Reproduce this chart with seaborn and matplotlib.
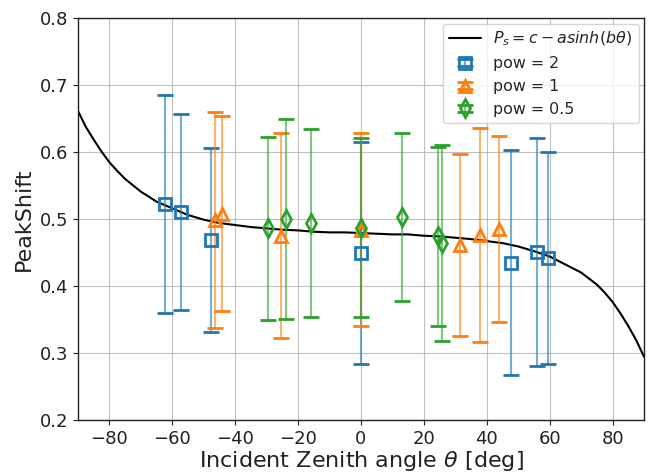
import numpy as np
import pandas as pd
from matplotlib import pyplot as plt
from matplotlib.legend_handler import HandlerErrorbar
import seaborn as sns

#%% data

# fitted curve P_s = c - asinh(b*theta)
theta_fit = [-90, -87.5, -85, -82.5, -80, -77.5, -75, -70, -65, -60, -55, -50, -45,
             -40, -35, -30, -25, -20, -15, -10, -5, 0, 5, 10, 15, 20, 25, 30, 35,
             40, 45, 50, 55, 60, 65, 70, 75, 77.5, 80, 82.5, 85, 87.5, 90]
ps_fit = [0.662, 0.638, 0.619, 0.601, 0.585, 0.572, 0.560, 0.541, 0.526, 0.516,
          0.506, 0.499, 0.494, 0.491, 0.488, 0.486, 0.484, 0.483, 0.481, 0.480,
          0.480, 0.479, 0.478, 0.477, 0.477, 0.475, 0.474, 0.472, 0.470, 0.467,
          0.464, 0.459, 0.452, 0.444, 0.432, 0.420, 0.402, 0.390, 0.376, 0.359,
          0.340, 0.319, 0.294]

# pow = 2
x_p2 = [-62.3, -57.3, -47.6, 0.0, 47.6, 56.0, 59.5]
y_p2 = [0.522, 0.510, 0.469, 0.449, 0.435, 0.451, 0.442]
e_p2 = [0.163, 0.146, 0.137, 0.166, 0.168, 0.170, 0.158]

# pow = 1
x_p1 = [-46.4, -44.1, -25.4, 0.0, 31.4, 37.9, 43.9]
y_p1 = [0.498, 0.508, 0.475, 0.484, 0.461, 0.476, 0.485]
e_p1 = [0.161, 0.146, 0.153, 0.144, 0.136, 0.160, 0.139]

# pow = 0.5
x_p05 = [-29.4, -23.8, -16.0, 0.0, 13.1, 24.4, 25.8]
y_p05 = [0.486, 0.500, 0.494, 0.487, 0.503, 0.474, 0.464]
e_p05 = [0.137, 0.150, 0.140, 0.134, 0.126, 0.134, 0.146]

#%% plot

sns.set_style("ticks")
plt.rcParams['font.family'] = ['DejaVu Sans']

fig, ax = plt.subplots(figsize=(6.48, 4.74), dpi=100)
fig.subplots_adjust(left=0.120, right=0.994, top=0.962, bottom=0.114)

fit = pd.DataFrame({'theta': theta_fit, 'ps': ps_fit})
sns.lineplot(x='theta', y='ps', data=fit, ax=ax, color='black', lw=1.5,
             label=r'$P_s = c - asinh(b\theta)$')

series = [(x_p2, y_p2, e_p2, 's', 'C0', 'pow = 2'),
          (x_p1, y_p1, e_p1, '^', 'C1', 'pow = 1'),
          (x_p05, y_p05, e_p05, 'd', 'C2', 'pow = 0.5')]
for xs, ys, es, mk, col, lab in series:
    cont = ax.errorbar(xs, ys, yerr=es, fmt=mk, color=col, mfc='none', ms=9, mew=2,
                       capsize=6, capthick=2.5, elinewidth=1.5, label=lab, zorder=3)
    cont[2][0].set_alpha(0.6)

ax.set_xlim(-90, 90)
ax.set_ylim(0.2, 0.8)
ax.set_xticks(np.arange(-80, 81, 20))
ax.tick_params(labelsize=13, colors='#222222', labelcolor='#222222')
ax.set_xlabel(r'Incident Zenith angle $\theta$ [deg]', fontsize=16, color='#222222', labelpad=1)
ax.set_ylabel('PeakShift', fontsize=16, color='#222222')
ax.grid(True, color='#b0b0b0', lw=0.8, alpha=0.8)
for s in ax.spines.values():
    s.set_color('#222222')
    s.set_linewidth(1.0)
ax.legend(loc='upper right', fontsize=11.4, borderaxespad=0.35,
          handler_map={type(cont): HandlerErrorbar(yerr_size=0.22)})

plt.savefig("out.png")
